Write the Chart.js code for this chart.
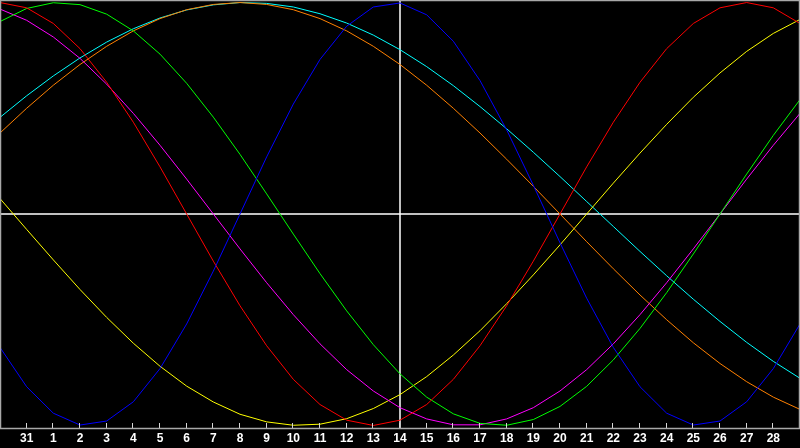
<!DOCTYPE html>
<html><head><meta charset="utf-8">
<script src="https://cdn.jsdelivr.net/npm/chart.js@4.4.1/dist/chart.umd.min.js"></script>
<style>html,body{margin:0;padding:0;background:#000;overflow:hidden}#wrap{width:800px;height:448px}</style>
</head><body><div id="wrap"><canvas id="c" width="800" height="448"></canvas></div>
<script>
const dayLabels = ['', '31', '1', '2', '3', '4', '5', '6', '7', '8', '9', '10', '11', '12', '13', '14', '15', '16', '17', '18', '19', '20', '21', '22', '23', '24', '25', '26', '27', '28', ''];
const todayIndex = 15;
const physical = [-0.631,-0.817,-0.942,-0.998,-0.979,-0.888,-0.731,-0.520,-0.270,0,0.270,0.520,0.731,0.888,0.979,0.998,0.942,0.817,0.631,0.398,0.136,-0.136,-0.398,-0.631,-0.817,-0.942,-0.998,-0.979,-0.888,-0.731,-0.520];
const emotional = [1,0.975,0.901,0.782,0.623,0.434,0.223,0,-0.223,-0.434,-0.623,-0.782,-0.901,-0.975,-1,-0.975,-0.901,-0.782,-0.623,-0.434,-0.223,0,0.223,0.434,0.623,0.782,0.901,0.975,1,0.975,0.901];
const intellectual = [0.910,0.972,0.999,0.990,0.945,0.866,0.756,0.618,0.458,0.282,0.095,-0.095,-0.282,-0.458,-0.618,-0.756,-0.866,-0.945,-0.990,-0.999,-0.972,-0.910,-0.815,-0.690,-0.541,-0.372,-0.189,0,0.189,0.372,0.541];
const intuitive = [0.969,0.916,0.837,0.736,0.614,0.476,0.325,0.165,0,-0.165,-0.325,-0.476,-0.614,-0.736,-0.837,-0.916,-0.969,-0.997,-0.997,-0.969,-0.916,-0.837,-0.736,-0.614,-0.476,-0.325,-0.165,0,0.165,0.325,0.476];
const aesthetic = [0.073,-0.073,-0.217,-0.357,-0.489,-0.611,-0.720,-0.814,-0.889,-0.947,-0.983,-0.999,-0.994,-0.968,-0.920,-0.854,-0.769,-0.667,-0.552,-0.424,-0.288,-0.146,0,0.146,0.288,0.424,0.552,0.667,0.769,0.854,0.920];
const awareness = [0.383,0.5,0.609,0.707,0.793,0.866,0.924,0.966,0.991,1,0.991,0.966,0.924,0.866,0.793,0.707,0.609,0.5,0.383,0.259,0.131,0,-0.131,-0.259,-0.383,-0.5,-0.609,-0.707,-0.793,-0.866,-0.924];
const spiritual = [0.457,0.559,0.653,0.738,0.813,0.876,0.927,0.965,0.989,1.000,0.996,0.979,0.947,0.903,0.846,0.777,0.697,0.607,0.508,0.403,0.292,0.177,0.059,-0.059,-0.177,-0.292,-0.403,-0.508,-0.607,-0.697,-0.777];

function ds(data, color) {
  return { data, borderColor: color, borderWidth: 1, pointRadius: 0, pointHoverRadius: 0, tension: 0, fill: false };
}

const framePlugin = {
  id: 'frame',
  beforeDatasetsDraw(chart) {
    const { ctx, chartArea: a, scales } = chart;
    ctx.save();
    ctx.strokeStyle = '#ffffff';
    ctx.lineWidth = 1.5;
    const y0 = scales.y.getPixelForValue(0);
    const xt = scales.x.getPixelForValue(todayIndex);
    ctx.beginPath();
    ctx.moveTo(a.left, y0); ctx.lineTo(a.right, y0);
    ctx.moveTo(xt, a.top); ctx.lineTo(xt, a.bottom);
    ctx.stroke();
    ctx.restore();
  },
  afterDatasetsDraw(chart) {
    const { ctx, chartArea: a, scales } = chart;
    ctx.save();
    ctx.strokeStyle = '#d8d8d8';
    ctx.lineWidth = 1;
    ctx.beginPath();
    for (let i = 1; i < dayLabels.length - 1; i++) {
      const x = Math.round(scales.x.getPixelForValue(i)) - 0.5;
      ctx.moveTo(x, a.bottom - 5); ctx.lineTo(x, a.bottom);
    }
    ctx.stroke();
    ctx.strokeStyle = '#a8a8a8';
    ctx.lineWidth = 1.5;
    ctx.strokeRect(a.left + 0.5, a.top + 0.5, a.right - a.left - 1, a.bottom - a.top);
    ctx.restore();
  }
};

new Chart(document.getElementById('c'), {
  type: 'line',
  data: {
    labels: dayLabels,
    datasets: [
      ds(physical, '#0000ff'),
      ds(emotional, '#ff0000'),
      ds(intellectual, '#00ff00'),
      ds(intuitive, '#ff00ff'),
      ds(aesthetic, '#ffff00'),
      ds(awareness, '#ff8000'),
      ds(spiritual, '#00ffff')
    ]
  },
  options: {
    responsive: false,
    devicePixelRatio: 1,
    animation: false,
    layout: { padding: 0, autoPadding: false },
    plugins: { legend: { display: false }, tooltip: { enabled: false } },
    scales: {
      x: {
        offset: false,
        grid: { display: false, drawTicks: false },
        border: { display: false },
        ticks: {
          color: '#ffffff',
          font: { family: 'Liberation Sans', size: 12, weight: 'bold' },
          padding: 3,
          autoSkip: false,
          maxRotation: 0,
          minRotation: 0
        },
        afterFit(s) { s.height = 20; s.paddingLeft = 0; s.paddingRight = 0; }
      },
      y: {
        display: false,
        min: -1.012,
        max: 1.012
      }
    }
  },
  plugins: [framePlugin]
});
</script>
</body></html>
